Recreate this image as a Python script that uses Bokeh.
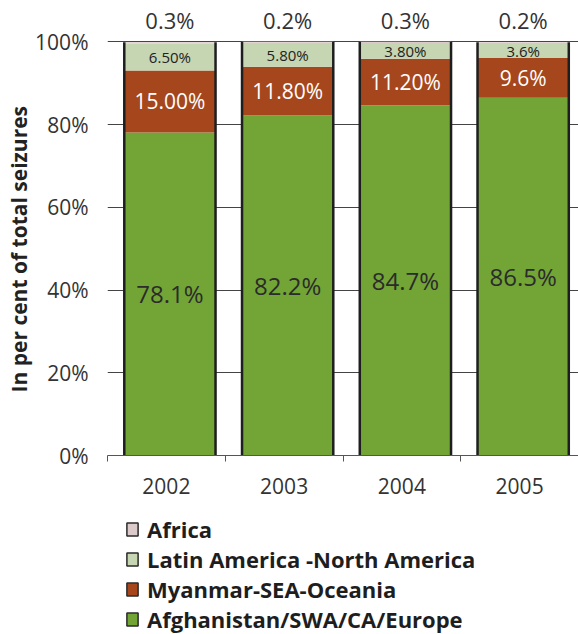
from bokeh.plotting import figure
from bokeh.layouts import column
from bokeh.models import Range1d, FixedTicker, Legend, LegendItem, ColumnDataSource, Title
from bokeh.core.properties import value
from bokeh.embed import file_html
from bokeh.resources import INLINE

years = ["2002", "2003", "2004", "2005"]
africa = [0.3, 0.2, 0.3, 0.2]
latin = [6.5, 5.8, 3.8, 3.6]
myanmar = [15.0, 11.8, 11.2, 9.6]
afghan = [78.1, 82.2, 84.7, 86.5]

africa_labels = ["0.3%", "0.2%", "0.3%", "0.2%"]
latin_labels = ["6.50%", "5.80%", "3.80%", "3.6%"]
myanmar_labels = ["15.00%", "11.80%", "11.20%", "9.6%"]
afghan_labels = ["78.1%", "82.2%", "84.7%", "86.5%"]

series_names = ["Africa", "Latin America -North America", "Myanmar-SEA-Oceania",
                "Afghanistan/SWA/CA/Europe"]

C_AF = "#dccaca"
C_LA = "#c6d5b2"
C_MY = "#a6461d"
C_AG = "#72a536"

FONT = "Open Sans"
BAR_W = 0.775

xs = [i + 0.53 for i in range(len(years))]
tot = [a + b + c + d for a, b, c, d in zip(afghan, myanmar, latin, africa)]
src = ColumnDataSource(dict(
    x=xs, afghan=afghan, myanmar=myanmar, latin=latin, africa=africa,
    xl=[x - BAR_W / 2 for x in xs], xr=[x + BAR_W / 2 for x in xs],
    y0=[0] * len(xs), tot=tot,
    ag_y=[a / 2 for a in afghan],
    my_y=[a + m / 2 for a, m in zip(afghan, myanmar)],
    la_y=[a + m + l / 2 for a, m, l in zip(afghan, myanmar, latin)],
    top_y=[105.2] * len(xs),
    ag_t=afghan_labels, my_t=myanmar_labels, la_t=latin_labels, af_t=africa_labels,
))

p = figure(width=578, height=510, x_range=Range1d(0, 4), y_range=Range1d(0, 110),
           output_backend="svg", toolbar_location=None,
           min_border_left=107, min_border_right=0, min_border_top=0, min_border_bottom=55)
p.outline_line_color = None

p.vbar_stack(["afghan", "myanmar", "latin", "africa"], x="x", width=BAR_W,
             color=[C_AG, C_MY, C_LA, C_AF], line_color=None, source=src)
p.segment(x0="xl", x1="xl", y0="y0", y1="tot", line_color="#1e1e1e", line_width=2.5, source=src)
p.segment(x0="xr", x1="xr", y0="y0", y1="tot", line_color="#1e1e1e", line_width=2.5, source=src)

p.text(x="x", y="ag_y", text="ag_t", text_font=value(FONT), text_font_size="24px",
       text_color="#2b2b2b", text_align="center", text_baseline="middle", source=src)
p.text(x="x", y="my_y", text="my_t", text_font=value(FONT), text_font_size="21px",
       text_color="#ffffff", text_align="center", text_baseline="middle", source=src)
p.text(x="x", y="la_y", text="la_t", text_font=value(FONT), text_font_size="15px",
       text_color="#222222", text_align="center", text_baseline="middle", source=src)
p.text(x="x", y="top_y", text="af_t", text_font=value(FONT), text_font_size="22px",
       text_color="#333333", text_align="center", text_baseline="middle", source=src)

# axes
p.xgrid.grid_line_color = None
p.ygrid.grid_line_color = "#444444"
p.ygrid.ticker = FixedTicker(ticks=[0, 20, 40, 60, 80, 100])
p.ygrid.level = "underlay"

p.yaxis.ticker = FixedTicker(ticks=[0, 20, 40, 60, 80, 100])
p.yaxis.major_label_overrides = {v: f"{v}%" for v in [0, 20, 40, 60, 80, 100]}
p.yaxis.axis_line_color = None
p.yaxis.major_tick_line_color = None
p.yaxis.minor_tick_line_color = None
p.yaxis.major_label_standoff = 13
p.yaxis.major_label_text_font = FONT
p.yaxis.major_label_text_font_size = "21px"
p.yaxis.major_label_text_color = "#333333"

p.add_layout(Title(text="In per cent of total seizures", align="left", offset=63,
                   standoff=0, text_font=FONT, text_font_size="21px",
                   text_font_style="bold", text_color="#222222"), "left")

p.xaxis.ticker = FixedTicker(ticks=[i + 0.5 for i in range(len(years))],
                             minor_ticks=list(range(len(years) + 1)))
p.xaxis.major_label_overrides = {i + 0.5: y for i, y in enumerate(years)}
p.xaxis.axis_line_color = "#555555"
p.xaxis.major_tick_line_color = None
p.xaxis.minor_tick_line_color = "#555555"
p.xaxis.minor_tick_out = 6
p.xaxis.minor_tick_in = 0
p.xaxis.major_label_standoff = 16
p.xaxis.major_label_text_font = FONT
p.xaxis.major_label_text_font_size = "21px"
p.xaxis.major_label_text_color = "#333333"

# legend in its own strip below; swatch renderers sit outside the strip's view
lg = figure(width=578, height=124, x_range=Range1d(0, 1), y_range=Range1d(0, 1),
            output_backend="svg", toolbar_location=None,
            x_axis_location=None, y_axis_location=None,
            min_border_left=107, min_border_right=0, min_border_top=0, min_border_bottom=0)
lg.outline_line_color = None
lg.xgrid.visible = False
lg.ygrid.visible = False
swatch = ColumnDataSource(dict(x=[-5], y=[-5]))
items = []
for name, col in zip(series_names, [C_AF, C_LA, C_MY, C_AG]):
    r = lg.rect(x="x", y="y", width=0.1, height=0.1, fill_color=col, line_color="#2a2a2a",
                line_width=1.5, source=swatch)
    items.append(LegendItem(label=name, renderers=[r]))

legend = Legend(items=items, location=(18, 0), orientation="vertical",
                border_line_color=None, background_fill_alpha=0, margin=0, padding=0,
                glyph_width=14, glyph_height=16, label_standoff=8, spacing=0,
                label_height=20,
                label_text_font=FONT, label_text_font_size="22px",
                label_text_font_style="bold", label_text_color="#1e1e1e")
lg.add_layout(legend, "center")

layout = column(p, lg, spacing=0)
open("out.html", "w").write(file_html(layout, INLINE))
